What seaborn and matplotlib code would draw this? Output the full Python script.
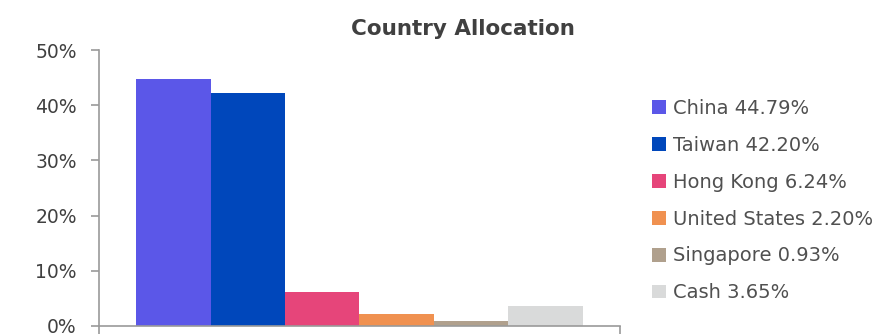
import matplotlib
matplotlib.use('Agg')
import matplotlib.pyplot as plt
from matplotlib.patches import Patch
from matplotlib.ticker import PercentFormatter
import seaborn as sns
import pandas as pd

# data
countries = ['China', 'Taiwan', 'Hong Kong', 'United States', 'Singapore', 'Cash']
weights = [44.79, 42.20, 6.24, 2.20, 0.93, 3.65]
colors = ['#5B57E8', '#0047BB', '#E6457A', '#F09150', '#B0A08D', '#D9DADA']
yticks = [0, 10, 20, 30, 40, 50]

sns.set_style('white')
plt.rcParams['font.family'] = ['DejaVu Sans']

df = pd.DataFrame({'country': countries, 'weight': weights})

fig = plt.figure(figsize=(8.81, 3.36), dpi=100)
ax = fig.add_axes([0.1124, 0.0298, 0.5913, 0.8212])

sns.barplot(data=df, x='country', y='weight', hue='country', palette=colors,
            width=1, legend=False, saturation=1, linewidth=0, ax=ax)

ax.set_xlim(-1, 6)
ax.set_ylim(0, 50)
ax.set_yticks(yticks)
ax.yaxis.set_major_formatter(PercentFormatter(decimals=0))
ax.set_xticks([-1, 6])
ax.set_xticklabels([])
ax.set_xlabel('')
ax.set_ylabel('')

grey = '#9A9A9A'
for side in ['top', 'right']:
    ax.spines[side].set_visible(False)
for side in ['left', 'bottom']:
    ax.spines[side].set_color(grey)
    ax.spines[side].set_linewidth(1.2)
ax.tick_params(axis='y', colors=grey, length=6, width=1.2, labelcolor='#404040',
               labelsize=13.5, left=True, pad=10)
ax.tick_params(axis='x', colors=grey, length=6, width=1.2, bottom=True)

fig.text(0.5255, 0.915, 'Country Allocation', ha='center', va='center',
         fontsize=15.5, fontweight='bold', color='#404040')

handles = [Patch(facecolor=c, edgecolor='none') for c in colors]
labels = [f'{c} {w:.2f}%' for c, w in zip(countries, weights)]
fig.legend(handles, labels, loc='upper left', bbox_to_anchor=(0.731, 0.729),
           frameon=False, fontsize=14, labelcolor='#505050',
           handlelength=0.72, handleheight=0.72, handletextpad=0.36,
           labelspacing=0.92, borderaxespad=0)

fig.savefig('out.png', dpi=100)
